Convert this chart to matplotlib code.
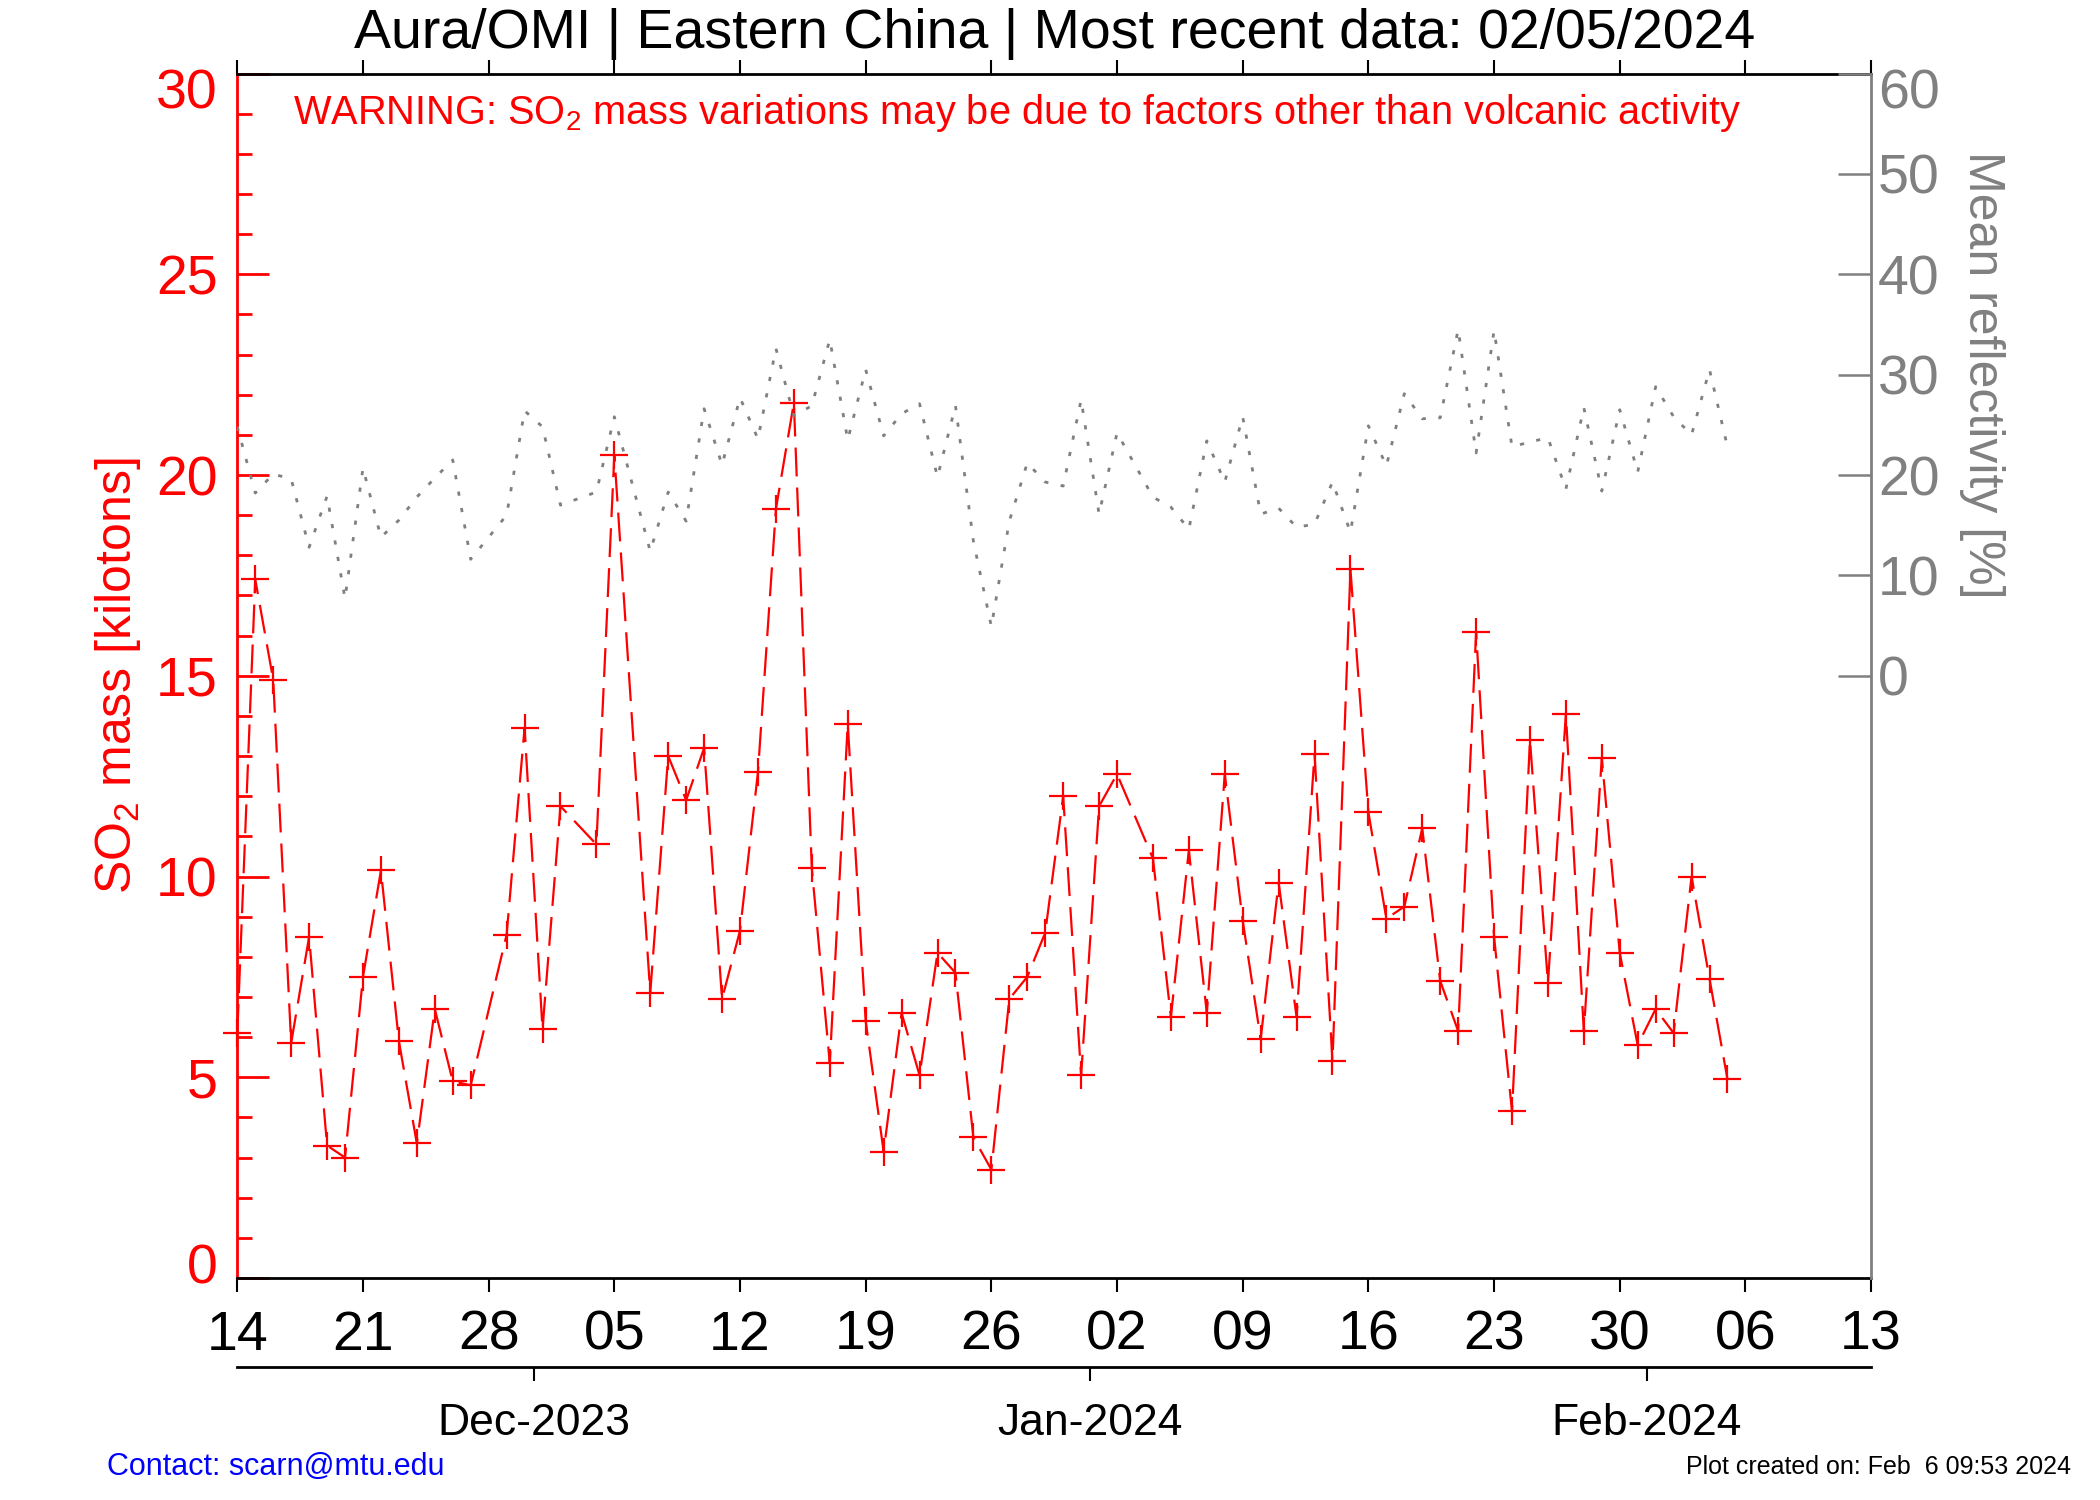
import numpy as np
import pandas as pd
import matplotlib
matplotlib.use('Agg')
import matplotlib.pyplot as plt
import matplotlib.transforms as mtransforms
from matplotlib.ticker import MultipleLocator, FixedLocator

# Fonts: narrow Helvetica-like look of the IDL plot
plt.rcParams['font.family'] = ['Liberation Sans Narrow', 'Liberation Sans', 'DejaVu Sans']
plt.rcParams['mathtext.default'] = 'regular'

# Data (days since 2023-11-14)
start_date = pd.Timestamp('2023-11-14')
end_date = pd.Timestamp('2024-02-13')
day_offset = [0, 1, 2, 3, 4, 5, 6, 7, 8, 9, 10, 11, 12, 13,
              15, 16, 17, 18, 20, 21,
              23, 24, 25, 26, 27, 28, 29, 30, 31, 32, 33, 34, 35, 36, 37, 38,
              39, 40, 41, 42, 43, 44, 45, 46, 47, 48, 49,
              51, 52, 53, 54, 55, 56, 57, 58, 59, 60, 61, 62, 63, 64, 65, 66,
              67, 68, 69, 70, 71, 72, 73, 74, 75, 76, 77, 78, 79, 80, 81, 82, 83]
so2_mass = [6.1, 17.4, 14.9, 5.85, 8.5, 3.3, 3.0, 7.5, 10.15, 5.9, 3.35, 6.7, 4.9, 4.8,
            8.55, 13.7, 6.2, 11.75, 10.8, 20.5,
            7.1, 13.0, 11.9, 13.2, 6.95, 8.65, 12.6, 19.15, 21.8, 10.2, 5.35, 13.8,
            6.4, 3.15, 6.6, 5.05, 8.1, 7.6, 3.5, 2.7, 6.95, 7.5, 8.6, 12.0, 5.05,
            11.75, 12.55,
            10.45, 6.5, 10.65, 6.6, 12.55, 8.9, 5.95, 9.85, 6.5, 13.05, 5.4, 17.65,
            11.6, 8.95, 9.25, 11.2, 7.4, 6.15, 16.1, 8.5, 4.15, 13.4, 7.35, 14.05,
            6.15, 12.95, 8.1, 5.8, 6.7, 6.1, 10.0, 7.45, 4.95]
reflectivity = [24.8, 18.2, 20.1, 19.6, 12.8, 17.9, 7.7, 20.7, 13.8, 15.5, 17.8, 19.7, 21.5, 11.6,
                16.0, 26.4, 24.8, 17.0, 18.3, 25.8,
                12.4, 18.3, 15.4, 26.6, 21.0, 27.7, 23.6, 32.6, 25.9, 26.9, 33.5, 23.5,
                30.5, 23.9, 26.1, 27.1, 19.8, 26.9, 13.4, 4.9, 15.4, 21.2, 19.3, 18.9, 27.5,
                16.1, 24.2,
                17.8, 16.8, 14.6, 23.4, 19.3, 25.8, 16.1, 16.7, 14.8, 15.1, 19.3, 14.3,
                24.9, 20.9, 28.1, 25.6, 25.7, 34.5, 22.2, 34.4, 22.8, 23.3, 23.7, 18.6,
                26.7, 18.4, 26.5, 20.3, 28.8, 25.8, 24.0, 30.5, 22.8]
month_labels = ['Dec-2023', 'Jan-2024', 'Feb-2024']
month_starts = ['2023-12-01', '2024-01-01', '2024-02-01']

dates = start_date + pd.to_timedelta(day_offset, unit='D')
week_ticks = pd.date_range(start_date, end_date, freq='7D')
month_ticks = pd.to_datetime(month_starts) - pd.Timedelta(hours=12)

fig = plt.figure(figsize=(21, 15), dpi=100)
ax_left, ax_bottom, ax_width, ax_height = 0.113, 0.148, 0.778, 0.803
ax = fig.add_axes([ax_left, ax_bottom, ax_width, ax_height])
ax2 = ax.twinx()

# SO2 mass (left axis)
ax.plot(dates, so2_mass, color='red', linestyle=(0, (13, 5)), linewidth=1.6,
        marker='+', markersize=20, markeredgewidth=1.6, clip_on=False, zorder=3)
ax.set_xlim(start_date, end_date)
ax.set_ylim(0, 30)
ax.yaxis.set_major_locator(FixedLocator(np.arange(0, 31, 5)))
ax.yaxis.set_minor_locator(MultipleLocator(1))
ax.tick_params(axis='y', which='major', direction='in', length=23, width=2,
               colors='red', labelsize=40, pad=14)
ax.tick_params(axis='y', which='minor', direction='in', length=11, width=2, colors='red')
ax.set_xticks(week_ticks)
ax.set_xticklabels(week_ticks.strftime('%d'))
ax.tick_params(axis='x', which='major', direction='out', top=True, bottom=True,
               length=10, width=1.5, color='black', labelsize=40, pad=13)
ax.spines['left'].set_color('red')
ax.spines['left'].set_linewidth(2)
ax.spines['right'].set_visible(False)
ax.spines['top'].set_linewidth(2)
ax.spines['bottom'].set_linewidth(2)
ax.set_ylabel('SO$_2$ mass [kilotons]', color='red', fontsize=36)
ax.yaxis.set_label_coords(-0.058, 0.5)

# Mean reflectivity (right axis)
ax2.plot(dates, reflectivity, color='gray', linestyle=(0, (1.5, 4.5)), linewidth=2, zorder=2)
ax2.set_ylim(-60, 60)
ax2.yaxis.set_major_locator(FixedLocator(np.arange(0, 61, 10)))
ax2.tick_params(axis='y', direction='in', length=24, width=1.8, colors='gray',
                labelsize=40, pad=5)
for side in ['left', 'top', 'bottom']:
    ax2.spines[side].set_visible(False)
ax2.spines['right'].set_color('gray')
ax2.spines['right'].set_linewidth(2)
ax2.set_ylabel('Mean reflectivity [%]', color='gray', fontsize=36, rotation=270)
ax2.yaxis.set_label_coords(1.082, 0.75)

# Month axis below
ax_m = fig.add_axes([ax_left, 0.089, ax_width, 0.0001])
ax_m.set_xlim(start_date, end_date)
ax_m.set_yticks([])
ax_m.patch.set_visible(False)
for side in ['left', 'right', 'top']:
    ax_m.spines[side].set_visible(False)
ax_m.spines['bottom'].set_linewidth(2)
ax_m.set_xticks(month_ticks)
ax_m.set_xticklabels(month_labels)
ax_m.tick_params(axis='x', direction='out', length=10, width=1.5, labelsize=32, pad=16)

# Texts
fig.text(0.502, 0.977, 'Aura/OMI | Eastern China | Most recent data: 02/05/2024',
         ha='center', va='center', fontsize=40)
fig.text(0.1395, 0.925,
         'WARNING: SO$_2$ mass variations may be due to factors other than volcanic activity',
         ha='left', va='center', fontsize=28.6, color='red')
fig.text(0.051, 0.022, 'Contact: scarn@mtu.edu', ha='left', va='center',
         fontsize=22, color='blue')
fig.text(0.986, 0.022, 'Plot created on: Feb  6 09:53 2024', ha='right', va='center',
         fontsize=18, color='black')

# Nudge end tick labels inward like the original
fig.canvas.draw()
down = mtransforms.ScaledTranslation(0, -0.15, fig.dpi_scale_trans)
up = mtransforms.ScaledTranslation(0, 0.15, fig.dpi_scale_trans)
for lab in ax.yaxis.get_ticklabels():
    if lab.get_text() == '0':
        lab.set_transform(lab.get_transform() + up)
    elif lab.get_text() == '30':
        lab.set_transform(lab.get_transform() + down)
for lab in ax2.yaxis.get_ticklabels():
    if lab.get_text() == '60':
        lab.set_transform(lab.get_transform() + down)

fig.savefig('out.png', dpi=100)
